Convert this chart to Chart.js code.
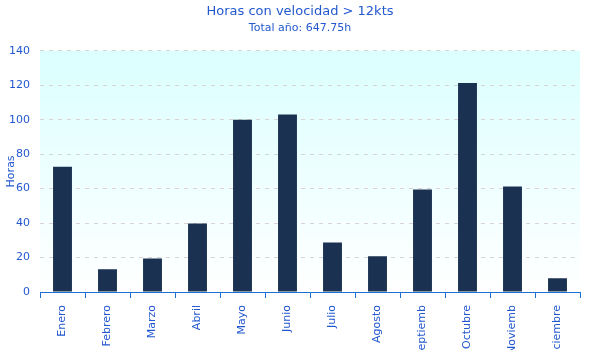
<!DOCTYPE html>
<html>
<head>
<meta charset="utf-8">
<script src="https://cdn.jsdelivr.net/npm/chart.js@4/dist/chart.umd.min.js"></script>
<style>
  html, body { margin: 0; padding: 0; background: #ffffff; }
  #wrap { width: 600px; height: 350px; position: relative; }
</style>
</head>
<body>
<div id="wrap"><canvas id="chart" width="600" height="350"></canvas></div>
<script>
// Monthly hours with wind speed above 12 knots
const months = ["Enero", "Febrero", "Marzo", "Abril", "Mayo", "Junio", "Julio",
                "Agosto", "Septiembre", "Octubre", "Noviembre", "Diciembre"];
// Axis labels as printed under each bar
const monthLabels = ["Enero", "Febrero", "Marzo", "Abril", "Mayo", "Junio", "Julio",
                     "Agosto", "Septiemb", "Octubre", "Noviemb", "Diciembre"];
const hours = [72.75, 13.25, 19.5, 39.75, 100, 103, 28.75, 20.75, 59.5, 121.25, 61.25, 8];
const yTicks = [0, 20, 40, 60, 80, 100, 120, 140];

const totalHours = hours.reduce((a, b) => a + b, 0);

const FONT = "'DejaVu Sans', sans-serif";
const TEXT_BLUE = "#2358cf";
const AXIS_BLUE = "#1a6fd3";

// Soft cyan-to-white fill behind the plot area
const plotBackground = {
  id: "plotBackground",
  beforeDraw(chart) {
    const { ctx, chartArea: a } = chart;
    const g = ctx.createLinearGradient(0, a.top, 0, a.bottom);
    g.addColorStop(0, "#dbffff");
    g.addColorStop(1, "#ffffff");
    ctx.save();
    ctx.fillStyle = g;
    ctx.fillRect(a.left, a.top, a.right - a.left, a.bottom - a.top);
    ctx.restore();
  }
};

new Chart(document.getElementById("chart"), {
  type: "bar",
  data: {
    labels: months,
    datasets: [{
      data: hours,
      backgroundColor: "#1a3152",
      borderWidth: 0,
      barPercentage: 0.42,
      categoryPercentage: 1.0
    }]
  },
  plugins: [plotBackground],
  options: {
    responsive: false,
    animation: false,
    layout: { padding: 0 },
    plugins: {
      legend: { display: false },
      tooltip: { enabled: false },
      title: {
        display: true,
        text: "Horas con velocidad > 12kts",
        color: TEXT_BLUE,
        font: { family: FONT, size: 13, weight: "normal" },
        padding: { top: 4, bottom: 2 }
      },
      subtitle: {
        display: true,
        text: "Total año: " + totalHours.toFixed(2) + "h",
        color: TEXT_BLUE,
        font: { family: FONT, size: 11, weight: "normal" },
        padding: { top: 0, bottom: 16 }
      }
    },
    scales: {
      x: {
        afterFit(scale) { scale.height = 58; },
        grid: {
          display: true,
          offset: true,
          drawOnChartArea: false,
          drawTicks: true,
          tickLength: 6,
          tickColor: AXIS_BLUE,
          tickWidth: 1
        },
        border: { display: true, color: AXIS_BLUE, width: 1 },
        ticks: {
          color: TEXT_BLUE,
          font: { family: FONT, size: 11 },
          minRotation: 90,
          maxRotation: 90,
          autoSkip: false,
          padding: 7,
          callback: (v, i) => monthLabels[i]
        }
      },
      y: {
        min: 0,
        max: 140,
        afterFit(scale) { scale.width = 40; },
        afterBuildTicks(scale) { scale.ticks = yTicks.map(v => ({ value: v })); },
        grid: {
          color: "#d9d3d3",
          lineWidth: 1,
          drawTicks: false
        },
        border: { display: false, dash: [4, 5] },
        ticks: {
          color: TEXT_BLUE,
          font: { family: FONT, size: 11 },
          padding: 10
        },
        title: {
          display: true,
          text: "Horas",
          color: TEXT_BLUE,
          font: { family: FONT, size: 11 },
          padding: { top: 5, bottom: 0 }
        }
      },
      // Empty right-hand margin so the titles stay centred on the page
      yRight: {
        position: "right",
        display: true,
        afterFit(scale) { scale.width = 20; },
        grid: { display: false, drawOnChartArea: false },
        border: { display: false },
        ticks: { display: false }
      }
    }
  }
});
</script>
</body>
</html>
